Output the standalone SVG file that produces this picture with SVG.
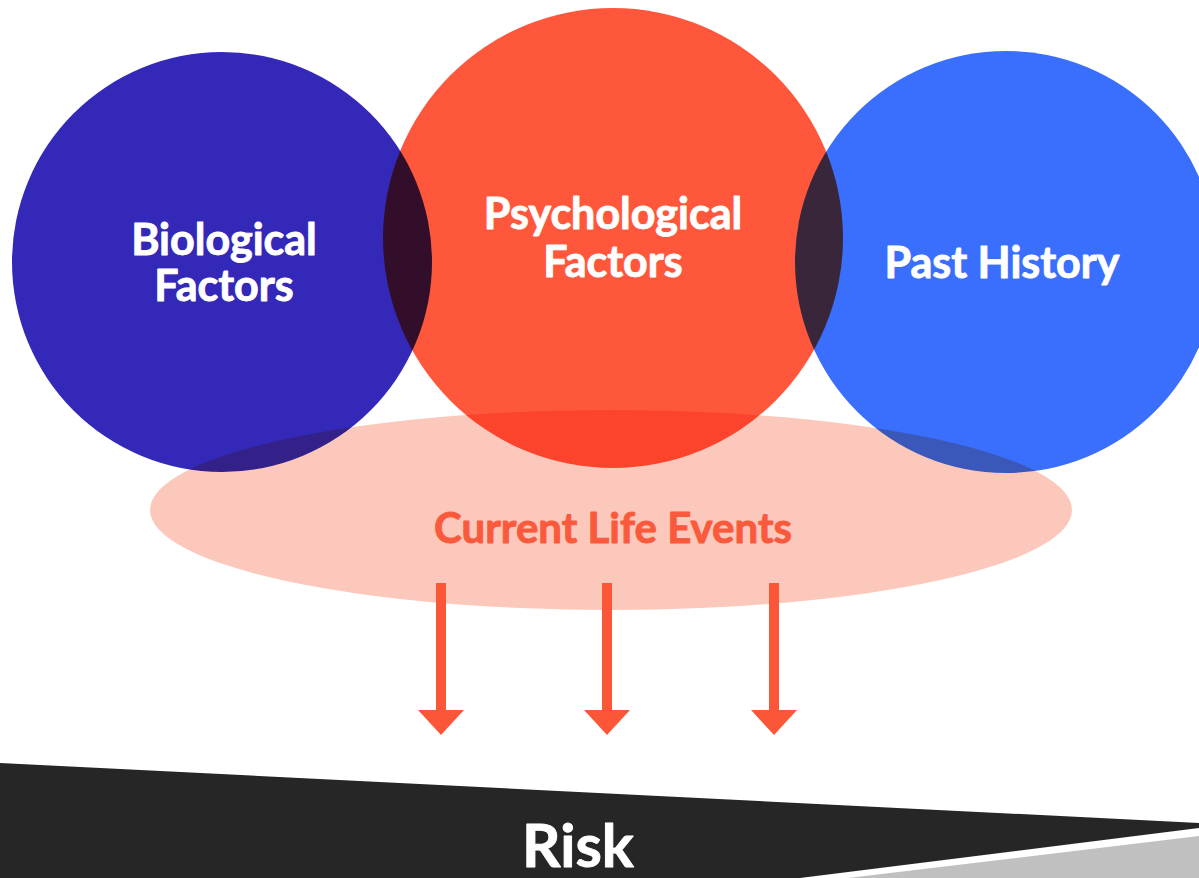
<svg xmlns="http://www.w3.org/2000/svg" width="1199" height="878" viewBox="0 0 1199 878">
  <style>
    .blend { mix-blend-mode: multiply; }
    .label { font-family: Lato, "Open Sans", "Liberation Sans", sans-serif; font-weight: 700; text-anchor: middle; stroke-width: 0.9px; stroke-linejoin: round; }
    .white { fill: #ffffff; stroke: #ffffff; font-size: 43px; }
    .events { fill: #fa5a3c; stroke: #fa5a3c; font-size: 42px; }
    .arrow { fill: #fb5638; }
  </style>
  <rect width="1199" height="878" fill="#ffffff"/>
  <g style="isolation:isolate">
    <!-- Current life events: base layer under the three factors -->
    <g id="current-life-events">
      <ellipse cx="611" cy="510" rx="461" ry="100" fill="#fcc8bc"/>
    </g>
    <g id="biological-factors">
      <circle class="blend" cx="222" cy="262" r="210" fill="#3328b8"/>
    </g>
    <g id="psychological-factors">
      <circle class="blend" cx="613" cy="238" r="230" fill="#ff573b"/>
    </g>
    <g id="past-history">
      <circle class="blend" cx="1006" cy="262" r="211" fill="#3a6ffd"/>
    </g>
  </g>
  <!-- labels -->
  <text class="label white" x="224" y="255">Biological</text>
  <text class="label white" x="224" y="301">Factors</text>
  <text class="label white" x="613" y="229">Psychological</text>
  <text class="label white" x="613" y="277">Factors</text>
  <text class="label white" x="1002" y="278">Past History</text>
  <text class="label events" x="613" y="543">Current Life Events</text>

  <!-- connectors -->
  <g id="connectors">
    <g class="arrow">
      <rect x="436" y="583" width="10" height="130"/>
      <polygon points="418,710 464,710 441,735"/>
      <rect x="602" y="583" width="10" height="130"/>
      <polygon points="584,710 630,710 607,735"/>
      <rect x="769" y="583" width="10" height="130"/>
      <polygon points="751,710 797,710 774,735"/>
    </g>
  </g>

  <!-- risk band -->
  <g id="risk">
    <polygon points="0,763 1199,823 1199,878 0,878" fill="#262626"/>
    <polygon points="1199,828 800,878 1199,878" fill="#ffffff"/>
    <polygon points="1199,836 848,878 1199,878" fill="#c0c0c0"/>
    <text class="label" x="578" y="867" font-size="60" fill="#ffffff" stroke="#ffffff">Risk</text>
  </g>
</svg>
